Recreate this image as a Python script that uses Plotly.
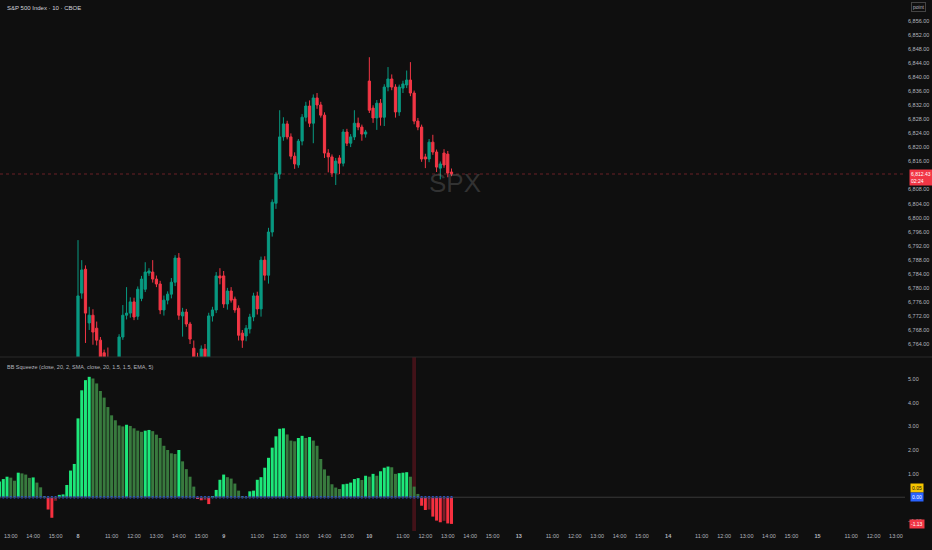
import plotly.graph_objects as go
from plotly.subplots import make_subplots

# Sesiones (día del mes) y barras de 10 minutos por sesión (las futuras tienen una más)
dias = ["7", "8", "9", "10", "13", "14", "15"]
barras_por_dia = [39, 39, 39, 40, 40, 40, 40]
horas_eje = ["11:00", "12:00", "13:00", "14:00", "15:00"]

# Tramos con datos: (día, primera barra, número de barras)
tramos = [("7", "12:30", 21), ("8", "09:30", 39), ("9", "09:30", 39), ("10", "09:30", 23)]

# Velas SPX 10 min
apertura = [
    6748.5, 6750.4, 6752.1, 6753.3, 6751.0, 6749.6, 6754.7, 6753.5, 6752.2, 6750.1, 6753.2, 6750.4, 6747.0, 6744.2, 6740.6, 6738.1, 6742.9, 6745.9, 6747.5, 6751.8, 6754.4,
    6757.0, 6778.5, 6785.3, 6770.0, 6772.2, 6768.5, 6765.1, 6761.5, 6757.0, 6753.6, 6756.8, 6757.9, 6766.0, 6772.2, 6772.8, 6776.0, 6771.9, 6777.0, 6779.6, 6784.2,
    6784.5, 6782.5, 6781.1, 6773.7, 6776.5, 6778.2, 6781.6, 6788.5, 6772.0, 6773.1, 6769.7, 6762.8, 6760.3, 6759.4, 6762.6, 6759.8, 6772.0, 6773.7, 6783.4,
    6783.4, 6775.4, 6779.1, 6776.8, 6774.2, 6767.1, 6766.3, 6768.3, 6771.7, 6777.7, 6774.0, 6787.9, 6783.6, 6795.9, 6804.1, 6812.4, 6823.0, 6826.7, 6823.0, 6817.5,
    6815.0, 6821.8, 6828.6, 6831.8, 6826.9, 6834.1, 6832.1, 6829.2, 6818.4, 6817.3, 6812.7, 6817.0, 6815.5, 6824.4, 6821.2, 6823.0, 6826.9, 6825.8, 6823.8,
    6838.9, 6831.2, 6828.4, 6832.6, 6828.6, 6837.2, 6839.5, 6837.2, 6830.1, 6836.9, 6837.8, 6839.2, 6835.5, 6827.5, 6825.8, 6817.3, 6816.7, 6821.5, 6818.7, 6814.1,
    6818.4, 6818.1, 6813.0,
]
maximo = [
    6751.2, 6753.0, 6754.6, 6754.1, 6752.4, 6755.2, 6756.3, 6754.8, 6753.0, 6754.0, 6753.9, 6751.3, 6748.1, 6745.0, 6742.0, 6743.6, 6746.8, 6748.3, 6752.6, 6755.9, 6757.1,
    6793.6, 6787.9, 6786.4, 6774.6, 6773.9, 6770.4, 6766.0, 6762.4, 6763.0, 6758.2, 6759.3, 6766.8, 6775.1, 6780.2, 6777.3, 6777.2, 6780.4, 6783.4, 6787.3, 6785.6,
    6787.9, 6783.5, 6782.0, 6777.8, 6779.0, 6782.8, 6789.3, 6789.9, 6774.3, 6774.0, 6770.3, 6765.0, 6761.5, 6763.6, 6764.0, 6772.9, 6774.6, 6784.5, 6785.6,
    6784.8, 6780.0, 6780.2, 6777.5, 6775.0, 6768.0, 6769.4, 6772.6, 6778.6, 6778.9, 6788.9, 6789.0, 6797.1, 6805.2, 6813.0, 6830.6, 6828.6, 6827.6, 6824.0, 6818.6,
    6822.4, 6829.5, 6833.0, 6833.4, 6835.1, 6835.5, 6833.0, 6830.0, 6819.5, 6818.0, 6817.0, 6817.8, 6825.2, 6825.3, 6823.8, 6830.6, 6828.5, 6826.5, 6825.0,
    6845.7, 6832.0, 6833.5, 6833.8, 6838.0, 6842.9, 6840.8, 6838.0, 6837.9, 6839.0, 6841.9, 6844.3, 6836.2, 6828.4, 6826.5, 6818.2, 6822.4, 6823.6, 6819.4, 6816.0,
    6819.5, 6819.0, 6814.0,
]
minimo = [
    6746.9, 6749.1, 6750.8, 6750.2, 6748.7, 6749.0, 6752.9, 6751.1, 6749.4, 6749.7, 6749.8, 6746.2, 6743.5, 6739.8, 6736.9, 6737.5, 6741.7, 6744.0, 6746.8, 6750.5, 6752.9,
    6755.8, 6776.9, 6764.3, 6768.0, 6763.8, 6763.6, 6757.2, 6754.9, 6751.8, 6750.9, 6754.0, 6756.5, 6765.2, 6771.0, 6771.5, 6770.8, 6770.9, 6776.2, 6778.8, 6783.4,
    6781.5, 6780.2, 6772.5, 6772.1, 6775.3, 6777.0, 6780.5, 6770.9, 6766.1, 6768.9, 6764.0, 6758.9, 6757.0, 6758.0, 6757.8, 6758.6, 6770.4, 6772.8, 6781.0,
    6774.3, 6773.8, 6775.8, 6772.9, 6765.0, 6762.9, 6764.8, 6767.0, 6770.5, 6772.4, 6771.8, 6782.1, 6781.2, 6794.6, 6802.5, 6811.0, 6821.9, 6822.3, 6816.6, 6813.9,
    6814.2, 6820.6, 6827.4, 6825.8, 6821.2, 6831.0, 6828.5, 6817.0, 6812.9, 6811.6, 6809.3, 6812.4, 6814.6, 6820.4, 6820.1, 6822.1, 6824.9, 6821.9, 6822.8,
    6829.8, 6827.0, 6825.0, 6826.2, 6826.1, 6836.0, 6836.3, 6828.5, 6829.0, 6835.5, 6836.9, 6834.6, 6826.6, 6824.9, 6815.9, 6814.1, 6815.8, 6817.9, 6813.0, 6810.9,
    6814.2, 6811.5, 6811.8,
]
cierre = [
    6750.4, 6752.1, 6753.3, 6751.0, 6749.6, 6754.7, 6753.5, 6752.2, 6750.1, 6753.2, 6750.4, 6747.0, 6744.2, 6740.6, 6738.1, 6742.9, 6745.9, 6747.5, 6751.8, 6754.4, 6756.2,
    6777.7, 6785.1, 6772.8, 6772.2, 6767.4, 6765.1, 6758.4, 6757.0, 6753.6, 6756.8, 6757.9, 6766.0, 6772.2, 6772.8, 6776.0, 6771.7, 6779.6, 6782.5, 6784.5, 6784.8,
    6782.5, 6781.1, 6773.7, 6776.5, 6778.2, 6781.6, 6788.5, 6772.2, 6773.1, 6769.7, 6765.4, 6760.0, 6759.4, 6762.6, 6759.8, 6772.0, 6773.7, 6783.4, 6782.8,
    6775.4, 6779.1, 6776.5, 6773.7, 6766.5, 6765.1, 6768.5, 6771.7, 6777.7, 6774.0, 6787.9, 6783.6, 6795.9, 6804.4, 6812.4, 6823.0, 6826.7, 6823.0, 6817.5, 6815.3,
    6821.8, 6828.6, 6831.8, 6826.9, 6834.1, 6832.1, 6829.2, 6818.4, 6817.3, 6812.7, 6816.1, 6815.5, 6824.4, 6821.2, 6823.0, 6826.9, 6825.8, 6823.8, 6824.4,
    6830.6, 6828.4, 6832.6, 6828.6, 6837.2, 6839.5, 6837.2, 6830.1, 6837.2, 6838.1, 6839.2, 6835.5, 6827.5, 6825.8, 6816.7, 6816.7, 6821.5, 6818.7, 6814.4, 6815.3,
    6815.0, 6812.7, 6812.43,
]

# Histograma del BB Squeeze
momentum = [
    0.67, 0.77, 0.87, 0.83, 0.70, 1.04, 1.01, 0.96, 0.82, 0.84, 0.62, 0.42, 0.02, -0.52, -0.87, -0.15, 0.10, 0.12, 0.52, 1.13, 1.41,
    3.34, 4.53, 4.96, 5.10, 5.03, 4.82, 4.50, 4.22, 3.82, 3.47, 3.26, 3.04, 3.00, 3.07, 3.02, 2.92, 2.82, 2.77, 2.82, 2.85,
    2.80, 2.65, 2.51, 2.18, 2.00, 1.86, 1.83, 2.00, 1.52, 1.19, 0.87, 0.45, -0.06, -0.13, -0.12, -0.29, 0.02, 0.31, 0.74,
    0.96, 0.85, 0.79, 0.58, 0.28, 0.02, 0.01, 0.25, 0.28, 0.74, 0.85, 1.25, 1.67, 2.10, 2.58, 2.90, 2.92, 2.66, 2.40, 2.37,
    2.51, 2.60, 2.51, 2.55, 2.40, 2.18, 1.62, 1.18, 0.91, 0.55, 0.41, 0.35, 0.55, 0.57, 0.62, 0.77, 0.81, 0.73, 0.91,
    0.87, 0.99, 0.91, 1.10, 1.25, 1.30, 1.27, 0.99, 1.02, 1.04, 1.06, 0.87, 0.45, 0.14, -0.36, -0.54, -0.52, -0.82, -0.99, -1.06,
    -1.00, -1.11, -1.13,
]
# Barras con fondo de disparo del squeeze
disparos = [("10", "11:30")]
valor_amarillo = 0.05

FONDO = '#0f0f0f'
VERDE, ROJO = '#089981', '#f23645'
TEXTO = '#b2b5be'

# Índice de barra a partir del día y la hora
inicio = {}
pos = -barras_por_dia[0]
for d, n in zip(dias, barras_por_dia):
    inicio[d] = pos
    pos += n

def indice(dia, hora):
    h, m = map(int, hora.split(':'))
    return inicio[dia] + (h * 60 + m - 570) // 10

x = [indice(d, h) + k for d, h, n in tramos for k in range(n)]

# Etiquetas del eje temporal
tickvals, ticktext = [], []
for d in dias:
    tickvals.append(indice(d, "09:30"))
    ticktext.append(f"<b>{d}</b>")
    for h in horas_eje:
        tickvals.append(indice(d, h))
        ticktext.append(h)

# Colores del histograma (sube/baja)
colores = []
prev = 0.6
for v in momentum:
    if v >= 0:
        colores.append('#1de87a' if v > prev else '#387a3e')
    else:
        colores.append('#f7303f' if v < prev else '#7d1c28')
    prev = v

px_barra = 3.735
x0_px = 78
ancho_plot = 905
rango_x = [-x0_px / px_barra, (ancho_plot - x0_px) / px_barra]
rango_p = [6760.3, 6862.0]
rango_m = [-1.43, 5.94]

# Las marcas tapadas por la etiqueta del precio actual no se dibujan
ticks_precio = [p for p in range(6764, 6857, 4) if abs(p - cierre[-1]) > 2]

fig = make_subplots(rows=2, cols=1, shared_xaxes=True, vertical_spacing=0, row_heights=[357, 174])

fig.add_trace(go.Bar(
    x=[indice(d, h) for d, h in disparos], y=[rango_m[1] - rango_m[0]], base=rango_m[0],
    width=1, marker=dict(color='rgba(110,22,32,0.55)', line_width=0), hoverinfo='skip'
), row=2, col=1)

fig.add_trace(go.Candlestick(
    x=x, open=apertura, high=maximo, low=minimo, close=cierre,
    increasing=dict(line=dict(color=VERDE, width=1), fillcolor=VERDE),
    decreasing=dict(line=dict(color=ROJO, width=1), fillcolor=ROJO),
    whiskerwidth=0
), row=1, col=1)

fig.add_trace(go.Bar(
    x=x, y=momentum, width=0.8,
    marker=dict(color=colores, line_width=0)
), row=2, col=1)

fig.add_trace(go.Scatter(
    x=x, y=[0] * len(x), mode='markers',
    marker=dict(color='#2962ff', size=2.5, symbol='circle'), hoverinfo='skip'
), row=2, col=1)

fig.update_layout(
    width=932, height=550,
    margin=dict(l=0, r=932 - ancho_plot, t=0, b=19),
    paper_bgcolor=FONDO, plot_bgcolor=FONDO,
    showlegend=False, barmode='overlay', boxgap=0.15,
    font=dict(family='Liberation Sans', size=5.5, color=TEXTO),
)
fig.update_xaxes(range=rango_x, showgrid=False, zeroline=False, rangeslider_visible=False,
                 showline=False, ticks='')
fig.update_xaxes(showticklabels=False, row=1, col=1)
fig.update_xaxes(tickvals=tickvals, ticktext=ticktext, showticklabels=True,
                 tickfont=dict(size=5.5, color=TEXTO), row=2, col=1)
fig.update_yaxes(side='right', showgrid=False, zeroline=False, showline=False, ticks='',
                 ticklabelstandoff=2)
fig.update_yaxes(range=rango_p, tickvals=ticks_precio, tickformat=',.2f', row=1, col=1)
fig.update_yaxes(range=rango_m, tickvals=[-1, 1, 2, 3, 4, 5], tickformat='.2f', row=2, col=1)

# Línea de precio actual y línea cero
fig.add_shape(type='line', xref='paper', x0=0, x1=1, yref='y', y0=cierre[-1], y1=cierre[-1],
              line=dict(color='rgba(242,54,69,0.4)', width=1, dash='dot'))
fig.add_shape(type='line', xref='paper', x0=0, x1=1, yref='y2', y0=0, y1=0,
              line=dict(color='#3a3a3a', width=1))
# Separador de paneles
fig.add_shape(type='line', xref='paper', x0=0, x1=932 / ancho_plot, yref='paper',
              y0=174 / 531, y1=174 / 531, line=dict(color='#2a2a2a', width=1))

# Títulos
fig.add_annotation(text="S&P 500 Index · 10 · CBOE", xref='paper', yref='paper', x=0.005, y=0.995,
                   xanchor='left', yanchor='top', showarrow=False, font=dict(size=6, color='#d1d4dc'))
fig.add_annotation(text="BB Squeeze (close, 20, 2, SMA, close, 20, 1.5, 1.5, EMA, 5)",
                   xref='paper', yref='paper', x=0.005, y=(531 - 362) / 531,
                   xanchor='left', yanchor='top', showarrow=False, font=dict(size=5.5, color=TEXTO))
fig.add_annotation(text="SPX", xref='paper', yref='paper', x=455 / ancho_plot, y=(531 - 183) / 531,
                   showarrow=False, font=dict(size=26, color='rgba(140,140,140,0.28)'))
fig.add_annotation(text="point", xref='paper', yref='paper', x=1.007, y=0.997, xanchor='left',
                   yanchor='top', showarrow=False, bordercolor='#444', borderwidth=1, borderpad=1,
                   bgcolor=FONDO, font=dict(size=5, color=TEXTO))

# Etiquetas del eje de precios
fig.add_annotation(text=f"{cierre[-1]:,.2f}<br>02:24", xref='paper', x=1.004, y=cierre[-1], yref='y',
                   xanchor='left', yanchor='top', yshift=5, showarrow=False, bgcolor=ROJO,
                   borderpad=1, align='left', font=dict(size=5, color='white'))
fig.add_annotation(text=f"{valor_amarillo:.2f}", xref='paper', x=1.006, y=valor_amarillo, yref='y2',
                   xanchor='left', yshift=8, showarrow=False, bgcolor='#f7c600', borderpad=1,
                   font=dict(size=5, color='#131313'))
fig.add_annotation(text="0.00", xref='paper', x=1.006, y=0, yref='y2',
                   xanchor='left', showarrow=False, bgcolor='#2962ff', borderpad=1,
                   font=dict(size=5, color='white'))
fig.add_annotation(text=f"{momentum[-1]:.2f}", xref='paper', x=1.004, y=momentum[-1], yref='y2',
                   xanchor='left', showarrow=False, bgcolor=ROJO, borderpad=1,
                   font=dict(size=5, color='white'))

fig.write_html("out.html", config={'displayModeBar': False},
               post_script="document.body.style.margin='0';")
